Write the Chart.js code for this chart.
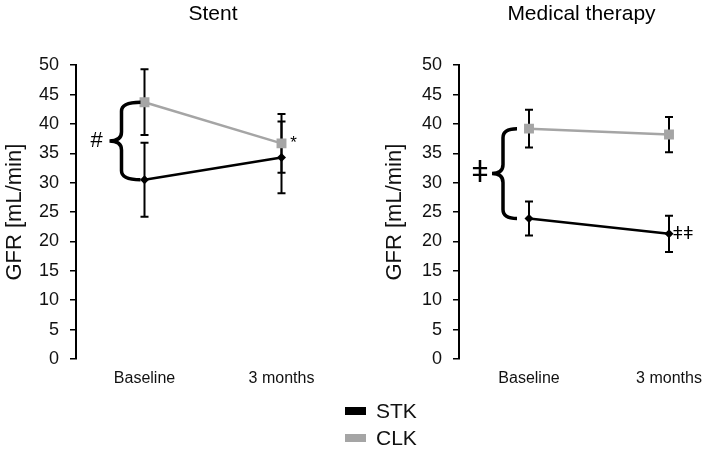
<!DOCTYPE html>
<html>
<head>
<meta charset="utf-8">
<script src="https://cdn.jsdelivr.net/npm/chart.js@4"></script>
<style>
  body { margin: 0; background: #fff; width: 714px; height: 449px; position: relative; overflow: hidden; font-family: "Liberation Sans", Arial, sans-serif; }
  .box { position: absolute; top: 0; width: 357px; height: 400px; }
  #legend { position: absolute; left: 345px; top: 397px; font-size: 21px; color: #111; }
  .item { height: 27px; display: flex; align-items: center; }
  .sw { width: 21px; height: 8px; margin-right: 10px; }
</style>
</head>
<body>
<div class="box" style="left:0"><canvas id="stent"></canvas></div>
<div class="box" style="left:357px"><canvas id="medical"></canvas></div>
<div id="legend">
  <div class="item"><span class="sw" style="background:#000"></span>STK</div>
  <div class="item"><span class="sw" style="background:#a5a5a5"></span>CLK</div>
</div>
<script>
// data
const categories = ['Baseline', '3 months'];
const stentSTK = [30.5, 34.3];
const stentSTKErr = [6.3, 6.1];
const stentCLK = [43.7, 36.7];
const stentCLKErr = [5.6, 5.0];
const medSTK = [23.9, 21.3];
const medSTKErr = [2.9, 3.1];
const medCLK = [39.2, 38.2];
const medCLKErr = [3.2, 3.0];
const yMin = 0, yMax = 50, yStep = 5;

const FONT = "'Liberation Sans', 'DejaVu Sans', Arial, sans-serif";
const GREY = '#a5a5a5';

function pts(arr) {
    return arr.map((v, i) => ({ x: i, y: v }));
}

// error bars, drawn under the lines
const errorBars = {
    id: 'errorBars',
    beforeDatasetsDraw(chart) {
        const ctx = chart.ctx;
        const xs = chart.scales.x, ys = chart.scales.y;
        ctx.save();
        ctx.strokeStyle = '#000';
        ctx.lineWidth = 2;
        chart.data.datasets.forEach(ds => {
            ds.data.forEach((p, i) => {
                const e = ds.errors[i];
                const x = xs.getPixelForValue(p.x);
                const top = ys.getPixelForValue(p.y + e);
                const bot = ys.getPixelForValue(p.y - e);
                ctx.beginPath();
                ctx.moveTo(x, top); ctx.lineTo(x, bot);
                ctx.moveTo(x - 4, top); ctx.lineTo(x + 4, top);
                ctx.moveTo(x - 4, bot); ctx.lineTo(x + 4, bot);
                ctx.stroke();
            });
        });
        ctx.restore();
    }
};

// curly brace + significance marks
const marks = {
    id: 'marks',
    afterDatasetsDraw(chart, args, opts) {
        const ctx = chart.ctx;
        const xs = chart.scales.x, ys = chart.scales.y;
        const b = opts.brace;
        const px = xs.getPixelForValue(b.index);
        const yTop = ys.getPixelForValue(b.top);
        const yBot = ys.getPixelForValue(b.bottom);
        const yMid = (yTop + yBot) / 2;
        const xt = px + b.tip, xs2 = px + b.spine, xm = px + b.mid, r = 9;
        ctx.save();
        ctx.strokeStyle = '#000';
        ctx.lineWidth = 3.5;
        ctx.beginPath();
        ctx.moveTo(xt, yTop);
        ctx.quadraticCurveTo(xs2, yTop, xs2, yTop + r);
        ctx.lineTo(xs2, yMid - r);
        ctx.quadraticCurveTo(xs2, yMid, xm, yMid);
        ctx.quadraticCurveTo(xs2, yMid, xs2, yMid + r);
        ctx.lineTo(xs2, yBot - r);
        ctx.quadraticCurveTo(xs2, yBot, xt, yBot);
        ctx.stroke();

        ctx.fillStyle = '#000';
        ctx.textAlign = 'center';
        ctx.textBaseline = 'middle';
        opts.labels.forEach(l => {
            ctx.font = l.size + 'px ' + FONT;
            const x = xs.getPixelForValue(l.index) + l.dx;
            const y = l.y == null ? yMid : ys.getPixelForValue(l.y);
            ctx.fillText(l.text, x, y);
        });
        ctx.restore();
    }
};

function makeChart(id, title, stk, stkErr, clk, clkErr, setup) {
    const ctx = document.getElementById(id).getContext('2d');
    return new Chart(ctx, {
        type: 'line',
        data: {
            datasets: [{
                label: 'CLK',
                data: pts(clk),
                errors: clkErr,
                borderColor: GREY,
                backgroundColor: GREY,
                borderWidth: 2.5,
                pointStyle: 'rect',
                pointRadius: 7,
                pointBorderWidth: 0
            }, {
                label: 'STK',
                data: pts(stk),
                errors: stkErr,
                borderColor: '#000',
                backgroundColor: '#000',
                borderWidth: 2.5,
                pointStyle: 'rectRot',
                pointRadius: 4.5,
                pointBorderWidth: 0
            }]
        },
        options: {
            responsive: false,
            animation: false,
            layout: { padding: { left: setup.padLeft, right: setup.padRight } },
            plugins: {
                legend: { display: false },
                tooltip: { enabled: false },
                title: {
                    display: true,
                    text: title,
                    fullSize: false,
                    color: '#000',
                    font: { family: FONT, size: 21, weight: 'normal' },
                    padding: { top: 2, bottom: 38 }
                },
                marks: { brace: setup.brace, labels: setup.labels }
            },
            scales: {
                x: {
                    type: 'linear',
                    min: -0.5,
                    max: setup.xMax,
                    afterBuildTicks: s => { s.ticks = categories.map((c, i) => ({ value: i })); },
                    afterFit: s => { s.height = 41; },
                    grid: { display: false, drawTicks: false },
                    border: { display: false },
                    ticks: {
                        padding: 10,
                        color: '#111',
                        font: { family: FONT, size: 16 },
                        callback: v => categories[v]
                    }
                },
                y: {
                    min: yMin,
                    max: yMax,
                    afterFit: s => { s.width = setup.yWidth; },
                    grid: { drawOnChartArea: false, drawTicks: true, tickLength: 6, color: '#000', lineWidth: 1.5 },
                    border: { color: '#000', width: 2 },
                    ticks: { stepSize: yStep, padding: 11, color: '#111', font: { family: FONT, size: 18 } },
                    title: {
                        display: true,
                        text: 'GFR [mL/min]',
                        color: '#111',
                        font: { family: FONT, size: 22 },
                        padding: { top: 2, bottom: 0 }
                    }
                }
            }
        },
        plugins: [errorBars, marks]
    });
}

document.getElementById('stent').width = 357;
document.getElementById('stent').height = 400;
document.getElementById('medical').width = 357;
document.getElementById('medical').height = 400;

makeChart('stent', 'Stent', stentSTK, stentSTKErr, stentCLK, stentCLKErr, {
    padLeft: 0, padRight: 5, yWidth: 76, xMax: 1.5,
    brace: { index: 0, top: stentCLK[0], bottom: stentSTK[0], tip: -4, spine: -23, mid: -35 },
    labels: [
        { text: '#', index: 0, dx: -48, y: null, size: 22 },
        { text: '*', index: 1, dx: 12, y: stentCLK[1], size: 17 }
    ]
});

makeChart('medical', 'Medical therapy', medSTK, medSTKErr, medCLK, medCLKErr, {
    padLeft: 23, padRight: 10, yWidth: 79, xMax: 1.25,
    brace: { index: 0, top: medCLK[0], bottom: medSTK[0], tip: -12, spine: -26, mid: -37 },
    labels: [
        { text: 'ǂ', index: 0, dx: -49, y: null, size: 30 },
        { text: 'ǂǂ', index: 1, dx: 14, y: medSTK[1], size: 18 }
    ]
});
</script>
</body>
</html>
